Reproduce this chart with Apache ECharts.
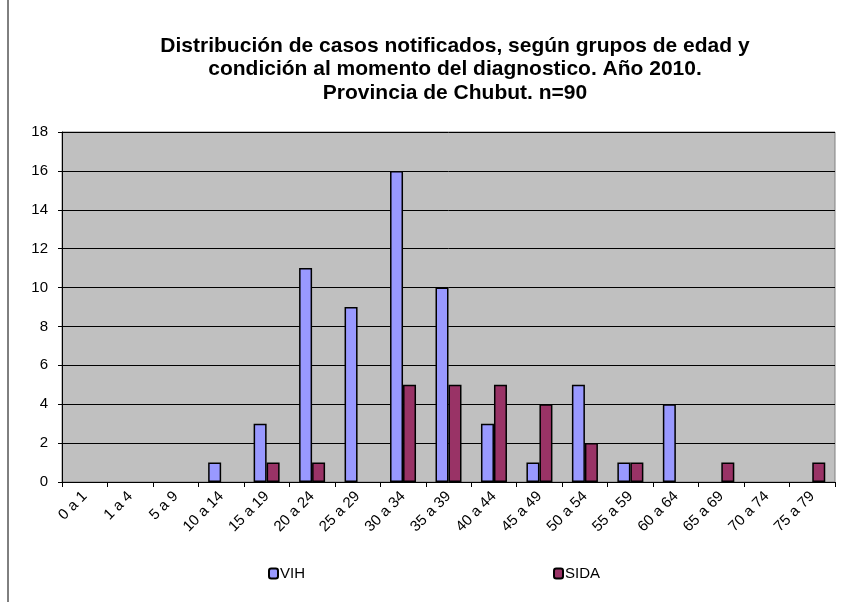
<!DOCTYPE html>
<html>
<head>
<meta charset="utf-8">
<script src="https://cdn.jsdelivr.net/npm/echarts@6/dist/echarts.min.js"></script>
<style>
  html, body { margin: 0; padding: 0; background: #fff; }
  #chart { width: 842px; height: 602px; }
</style>
</head>
<body>
<div id="chart"></div>
<script>
const categories = ['0 a 1', '1 a 4', '5 a 9', '10 a 14', '15 a 19', '20 a 24', '25 a 29', '30 a 34',
  '35 a 39', '40 a 44', '45 a 49', '50 a 54', '55 a 59', '60 a 64', '65 a 69', '70 a 74', '75 a 79'];
const vih = [0, 0, 0, 1, 3, 11, 9, 16, 10, 3, 1, 5, 1, 4, 0, 0, 0];
const sida = [0, 0, 0, 0, 1, 1, 0, 5, 5, 5, 4, 2, 1, 0, 1, 0, 1];
const yTicks = [0, 2, 4, 6, 8, 10, 12, 14, 16, 18];

const chart = echarts.init(document.getElementById('chart'));

// barras en cero no se dibujan
const noZero = (arr) => arr.map((v) => (v === 0 ? '-' : v));

const option = {
  animation: false,
  backgroundColor: '#fff',
  textStyle: { fontFamily: 'Liberation Sans, Arial, sans-serif' },
  title: {
    text: 'Distribución de casos notificados, según grupos de edad y\ncondición al momento del diagnostico. Año 2010.\nProvincia de Chubut. n=90',
    left: 450,
    top: 29,
    textAlign: 'center',
    textStyle: { fontSize: 21, fontWeight: 'bold', color: '#000', lineHeight: 23.5 },
  },
  legend: {
    bottom: 16,
    left: 263,
    itemGap: 248,
    itemWidth: 9,
    itemHeight: 10,
    textStyle: { fontSize: 15, color: '#000', padding: [0, 0, 0, -3] },
    data: ['VIH', 'SIDA'],
  },
  grid: {
    left: 62,
    right: 7,
    top: 132,
    bottom: 120,
    show: true,
    backgroundColor: '#c0c0c0',
    borderColor: '#808080',
    borderWidth: 1,
  },
  xAxis: {
    type: 'category',
    data: categories,
    axisLine: { lineStyle: { color: '#000', width: 1 } },
    axisTick: { show: true, alignWithLabel: false, length: 5, lineStyle: { color: '#000' } },
    axisLabel: {
      interval: 0,
      rotate: 45,
      fontSize: 15,
      color: '#000',
      margin: 12,
    },
  },
  yAxis: {
    type: 'value',
    min: yTicks[0],
    max: yTicks[yTicks.length - 1],
    interval: 2,
    axisLine: { show: true, lineStyle: { color: '#000', width: 1 } },
    axisTick: { show: true, length: 4, lineStyle: { color: '#000' } },
    axisLabel: { fontSize: 15, color: '#000', margin: 14 },
    splitLine: { lineStyle: { color: '#000', width: 1 } },
  },
  series: [
    {
      name: 'VIH',
      type: 'bar',
      data: noZero(vih),
      barWidth: 13,
      barGap: '0%',
      itemStyle: { color: '#9999ff', borderColor: '#000', borderWidth: 1.5 },
    },
    {
      name: 'SIDA',
      type: 'bar',
      data: noZero(sida),
      barWidth: 13,
      barGap: '0%',
      itemStyle: { color: '#993366', borderColor: '#000', borderWidth: 1.5 },
    },
  ],
  graphic: [
    {
      type: 'line',
      shape: { x1: 8, y1: 0, x2: 8, y2: 602 },
      style: { stroke: '#000', lineWidth: 1 },
    },
  ],
};

chart.setOption(option);
window.addEventListener('resize', chart.resize);
</script>
</body>
</html>
